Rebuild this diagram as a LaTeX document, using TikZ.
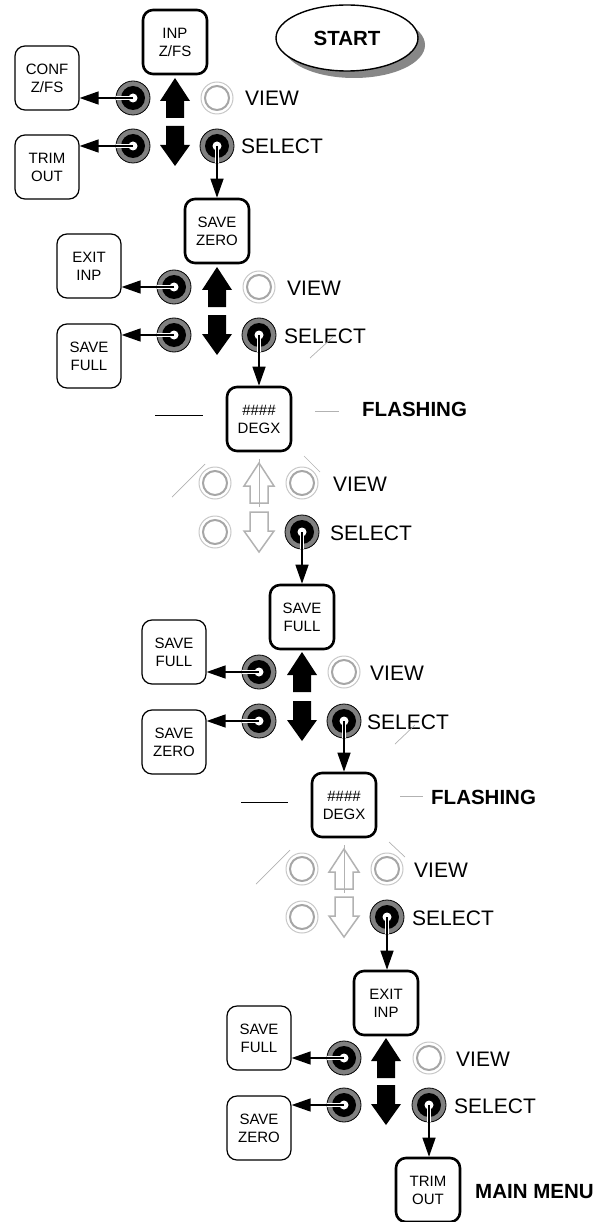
\documentclass[tikz,border=0pt]{standalone}
\usepackage{fontspec}
\setmainfont{Liberation Sans}
\usetikzlibrary{arrows.meta,shapes.geometric,shadows}
\begin{document}
\begin{tikzpicture}[x=1pt,y=-1pt,
  box/.style={draw=black, line width=1.2pt, rounded corners=10pt, minimum width=64pt, minimum height=64pt, inner sep=0pt, align=center, font=\fontsize{15}{18}\selectfont, fill=white},
  mainbox/.style={box, line width=2.6pt},
  darkbtn/.style={circle, draw=black, line width=0.8pt, fill=black!50, minimum size=34pt, inner sep=0pt,
    path picture={\fill[black] (path picture bounding box.center) circle (12pt);
                  \fill[white] (path picture bounding box.center) circle (4.5pt);}},
  lightbtn/.style={circle, draw=black!22, line width=1pt, minimum size=32pt, inner sep=0pt,
    path picture={\draw[black!35, line width=2pt] (path picture bounding box.center) circle (12pt);}},
  lbl/.style={font=\fontsize{21}{25}\selectfont, anchor=base west, inner sep=0pt},
  blbl/.style={font=\bfseries\fontsize{20.5}{25}\selectfont, anchor=base west, inner sep=0pt},
  conn/.style={line width=1.4pt, -{Triangle[length=19pt,width=13pt]}},
  halo/.style={white, line width=3.4pt},
  faint/.style={black!30, line width=0.7pt},
  solidarrow/.style={fill=black},
  hollowarrow/.style={draw=black!30, line width=1.5pt, fill=white},
  upsym/.pic={\path[pic actions] (0,-20) -- (15,3) -- (9,3) -- (9,20) -- (-9,20) -- (-9,3) -- (-15,3) -- cycle;},
  downsym/.pic={\path[pic actions] (0,20) -- (15,-1) -- (9,-1) -- (9,-20) -- (-9,-20) -- (-9,-1) -- (-15,-1) -- cycle;}
]
\useasboundingbox (0,0) rectangle (606,1222);

% START
\node[ellipse, draw=black, line width=1.4pt, fill=white, minimum width=142pt, minimum height=66pt,
  font=\bfseries\fontsize{20.5}{25}\selectfont,
  drop shadow={shadow xshift=7pt, shadow yshift=-7pt, fill=black!47, opacity=1}] (start) at (347,38) {START};

% ---------- Block 1 ----------
\node[mainbox] (inp) at (175,42) {INP\\Z/FS};
\node[box] (conf) at (47,78) {CONF\\Z/FS};
\node[box] (trimA) at (47,167) {TRIM\\OUT};
\node[darkbtn] (b1a) at (133,98) {};
\node[darkbtn] (b1b) at (133,146) {};
\node[lightbtn] (v1) at (217,98) {};
\node[darkbtn] (s1) at (217,146) {};
\pic[solidarrow] at (175,98) {upsym};
\pic[solidarrow] at (175,146) {downsym};
\node[lbl] (v1t) at (245,106) {VIEW};
\node[lbl] (s1t) at (241,154) {SELECT};

% ---------- Block 2 ----------
\node[mainbox] (zero2) at (217,231) {SAVE\\ZERO};
\node[box] (exit2) at (89,266) {EXIT\\INP};
\node[box] (full2) at (89,356) {SAVE\\FULL};
\node[darkbtn] (b2a) at (174,287) {};
\node[darkbtn] (b2b) at (174,335) {};
\node[lightbtn] (v2) at (259,287) {};
\node[darkbtn] (s2) at (259,335) {};
\pic[solidarrow] at (217,287) {upsym};
\pic[solidarrow] at (217,335) {downsym};
\node[lbl] (v2t) at (287,295) {VIEW};
\node[lbl] (s2t) at (284,343) {SELECT};
\draw[faint] (333,337) -- (310,358);

% ---------- Flashing A ----------
\node[mainbox] (degxA) at (259,419) {\#\#\#\#\\DEGX};
\draw[black, line width=1pt] (155,415) -- (203,415);
\draw[faint] (315,411) -- (339,411);
\node[blbl] (flA) at (362,416) {FLASHING};
\node[lightbtn] (fA1) at (215,483) {};
\node[lightbtn] (fA2) at (215,532) {};
\node[lightbtn] (vA) at (302,483) {};
\node[darkbtn] (sA) at (302,532) {};
\pic[hollowarrow] at (259,483) {upsym};
\pic[hollowarrow] at (259,532) {downsym};
\draw[faint] (259,459) -- (259,507);
\node[lbl] (vAt) at (333,491) {VIEW};
\node[lbl] (sAt) at (330,540) {SELECT};
\draw[faint] (172,497) -- (205,464);
\draw[faint] (304,456) -- (320,472);

% ---------- Block 3 ----------
\node[mainbox] (full3) at (302,617) {SAVE\\FULL};
\node[box] (full3l) at (174,652) {SAVE\\FULL};
\node[box] (zero3l) at (174,742) {SAVE\\ZERO};
\node[darkbtn] (b3a) at (259,672) {};
\node[darkbtn] (b3b) at (259,721) {};
\node[lightbtn] (v3) at (344,672) {};
\node[darkbtn] (s3) at (344,721) {};
\pic[solidarrow] at (302,672) {upsym};
\pic[solidarrow] at (302,721) {downsym};
\node[lbl] (v3t) at (370,680) {VIEW};
\node[lbl] (s3t) at (367,729) {SELECT};
\draw[faint] (415,725) -- (395,744);

% ---------- Flashing B ----------
\node[mainbox] (degxB) at (344,805) {\#\#\#\#\\DEGX};
\draw[black, line width=1pt] (241,802) -- (288,802);
\draw[faint] (400,796) -- (423,796);
\node[blbl] (flB) at (431,804) {FLASHING};
\node[lightbtn] (fB1) at (302,869) {};
\node[lightbtn] (fB2) at (302,917) {};
\node[lightbtn] (vB) at (387,869) {};
\node[darkbtn] (sB) at (387,917) {};
\pic[hollowarrow] at (344,869) {upsym};
\pic[hollowarrow] at (344,917) {downsym};
\draw[faint] (344,845) -- (344,893);
\node[lbl] (vBt) at (414,877) {VIEW};
\node[lbl] (sBt) at (412,925) {SELECT};
\draw[faint] (256,884) -- (290,850);
\draw[faint] (389,842) -- (405,857);

% ---------- Block 4 ----------
\node[mainbox] (exit4) at (386,1003) {EXIT\\INP};
\node[box] (full4l) at (259,1038) {SAVE\\FULL};
\node[box] (zero4l) at (259,1128) {SAVE\\ZERO};
\node[darkbtn] (b4a) at (344,1058) {};
\node[darkbtn] (b4b) at (344,1105) {};
\node[lightbtn] (v4) at (429,1058) {};
\node[darkbtn] (s4) at (429,1105) {};
\pic[solidarrow] at (386,1058) {upsym};
\pic[solidarrow] at (386,1105) {downsym};
\node[lbl] (v4t) at (456,1066) {VIEW};
\node[lbl] (s4t) at (454,1113) {SELECT};
\node[mainbox] (trim4) at (428,1190) {TRIM\\OUT};
\node[blbl] (mm) at (475,1198) {MAIN MENU};

% ---------- connectors ----------
\foreach \b/\t in {b1a/conf, b1b/trimA, b2a/exit2, b2b/full2, b3a/full3l, b3b/zero3l, b4a/full4l, b4b/zero4l}{
  \draw[halo] (\b.center) -- (\b.west);
  \draw[conn] (\b.center) -- (\b -| \t.east);
}
\foreach \b/\t in {s1/zero2, s2/degxA, sA/full3, s3/degxB, sB/exit4, s4/trim4}{
  \draw[halo] (\b.center) -- (\b.south);
  \draw[conn] (\b.center) -- (\b |- \t.north);
}
\end{tikzpicture}
\end{document}
